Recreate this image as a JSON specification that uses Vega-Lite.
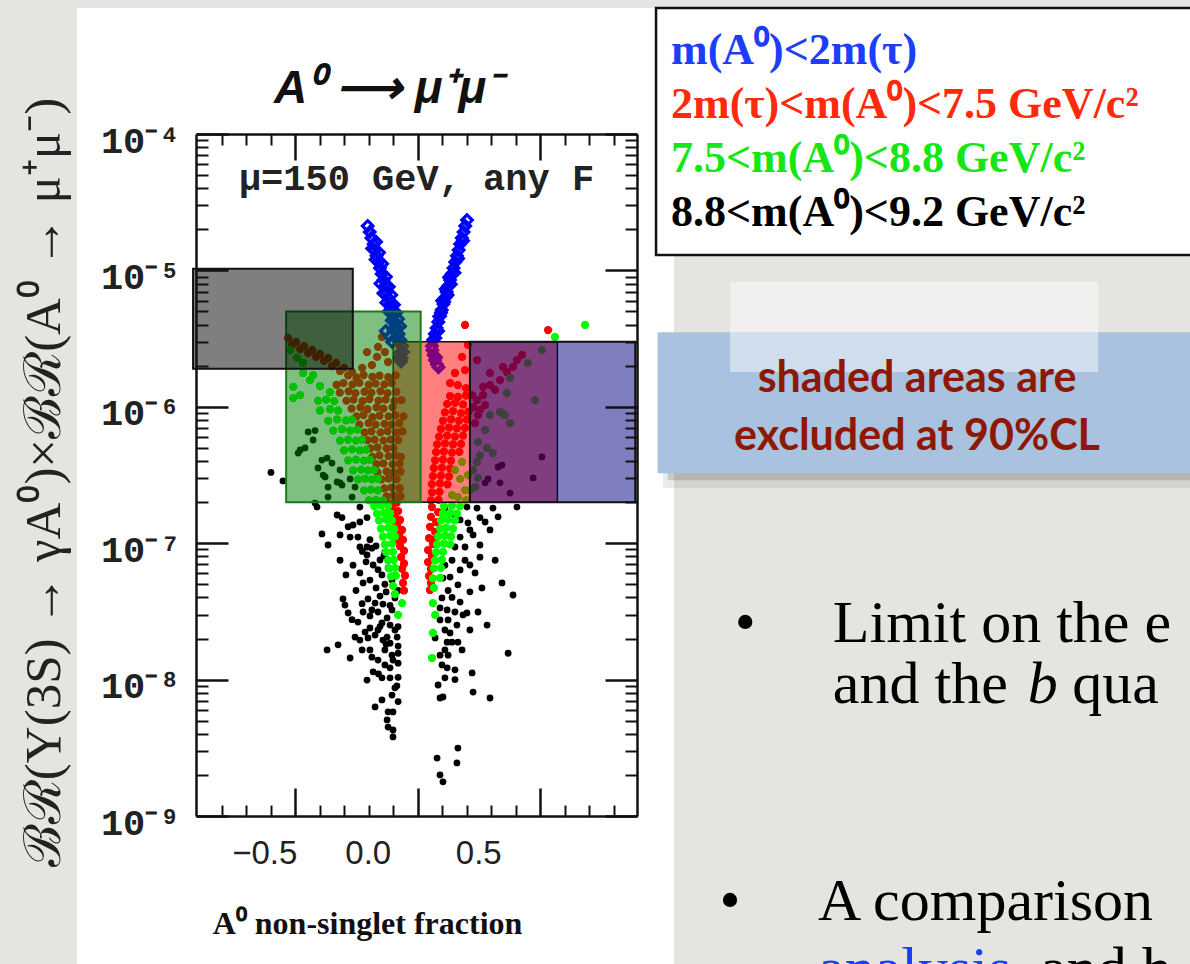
{
  "$schema": "https://vega.github.io/schema/vega-lite/v6.json",
  "usermeta": {"embedOptions": {"actions": false}},
  "width": 441,
  "height": 682,
  "autosize": {"type": "none"},
  "padding": {"left": 196, "top": 134, "right": 553, "bottom": 148},
  "background": "#e6e4e0",
  "config": {"view": {"stroke": null}},
  "datasets": {
    "blue": [
      {"frac":-0.204,"br":2.12e-5},{"frac":-0.196,"br":1.91e-5},{"frac":-0.189,"br":1.73e-5},{"frac":-0.18,"br":1.56e-5},{"frac":-0.175,"br":1.41e-5},{"frac":-0.168,"br":1.28e-5},{"frac":-0.161,"br":1.15e-5},{"frac":-0.154,"br":1.04e-5},{"frac":-0.147,"br":9.41e-6},{"frac":-0.14,"br":8.5e-6},{"frac":-0.133,"br":7.69e-6},{"frac":-0.127,"br":6.94e-6},{"frac":-0.12,"br":6.28e-6},{"frac":-0.113,"br":5.67e-6},{"frac":-0.106,"br":5.13e-6},{"frac":-0.099,"br":4.63e-6},{"frac":-0.093,"br":4.19e-6},{"frac":-0.085,"br":3.78e-6},{"frac":-0.078,"br":3.42e-6},{"frac":-0.071,"br":3.09e-6},{"frac":-0.064,"br":2.79e-6},{"frac":-0.06,"br":2.52e-6},{"frac":-0.066,"br":2.28e-6},
      {"frac":-0.17,"br":1.62e-5},{"frac":-0.158,"br":1.35e-5},{"frac":-0.145,"br":1.12e-5},{"frac":-0.13,"br":9.0e-6},{"frac":-0.118,"br":7.6e-6},{"frac":-0.108,"br":6.6e-6},{"frac":-0.097,"br":5.6e-6},{"frac":-0.088,"br":4.9e-6},{"frac":-0.08,"br":4.4e-6},{"frac":-0.072,"br":3.9e-6},
      {"frac":-0.152,"br":8.0e-6},{"frac":-0.14,"br":6.8e-6},{"frac":-0.128,"br":5.8e-6},{"frac":-0.118,"br":5.0e-6},{"frac":-0.106,"br":4.3e-6},{"frac":-0.186,"br":1.45e-5},{"frac":-0.172,"br":1.2e-5},
      {"frac":-0.13,"br":3.6e-6},{"frac":-0.115,"br":3.3e-6},{"frac":-0.1,"br":3.7e-6},{"frac":-0.09,"br":3.2e-6},{"frac":-0.105,"br":3.0e-6},{"frac":-0.07,"br":2.5e-6},{"frac":-0.075,"br":2.3e-6},{"frac":-0.068,"br":2.15e-6},
      {"frac":0.201,"br":2.34e-5},{"frac":0.194,"br":2.12e-5},{"frac":0.187,"br":1.91e-5},{"frac":0.18,"br":1.73e-5},{"frac":0.173,"br":1.56e-5},{"frac":0.167,"br":1.41e-5},{"frac":0.16,"br":1.28e-5},{"frac":0.153,"br":1.15e-5},{"frac":0.146,"br":1.04e-5},{"frac":0.139,"br":9.41e-6},{"frac":0.132,"br":8.5e-6},{"frac":0.125,"br":7.69e-6},{"frac":0.118,"br":6.94e-6},{"frac":0.111,"br":6.28e-6},{"frac":0.105,"br":5.67e-6},{"frac":0.098,"br":5.13e-6},{"frac":0.091,"br":4.63e-6},{"frac":0.084,"br":4.19e-6},{"frac":0.077,"br":3.78e-6},{"frac":0.07,"br":3.42e-6},{"frac":0.063,"br":3.09e-6},{"frac":0.058,"br":2.79e-6},
      {"frac":0.185,"br":1.65e-5},{"frac":0.165,"br":1.22e-5},{"frac":0.15,"br":9.6e-6},{"frac":0.135,"br":7.9e-6},{"frac":0.122,"br":6.6e-6},{"frac":0.108,"br":5.9e-6},{"frac":0.095,"br":4.9e-6},{"frac":0.083,"br":3.6e-6},{"frac":0.072,"br":3.2e-6},
      {"frac":0.128,"br":8.9e-6},{"frac":0.114,"br":7.3e-6},{"frac":0.1,"br":6.0e-6},{"frac":0.088,"br":4.6e-6},
      {"frac":0.06,"br":2.6e-6},{"frac":0.065,"br":2.4e-6},{"frac":0.07,"br":2.2e-6},{"frac":0.078,"br":2.05e-6},{"frac":0.085,"br":1.95e-6},{"frac":0.075,"br":2.3e-6}
    ],
    "red": [
      {"frac":-0.529,"br":3.2e-6},{"frac":-0.497,"br":2.99e-6},{"frac":-0.464,"br":2.79e-6},{"frac":-0.431,"br":2.61e-6},{"frac":-0.399,"br":2.44e-6},{"frac":-0.366,"br":2.28e-6},{"frac":-0.333,"br":2.1e-6},{"frac":-0.301,"br":1.93e-6},{"frac":-0.268,"br":1.8e-6},{"frac":-0.513,"br":2.84e-6},{"frac":-0.48,"br":2.65e-6},{"frac":-0.447,"br":2.48e-6},{"frac":-0.415,"br":2.32e-6},{"frac":-0.382,"br":2.17e-6},{"frac":-0.35,"br":1.99e-6},{"frac":-0.317,"br":1.83e-6},
      {"frac":-0.207,"br":2.52e-6},{"frac":-0.146,"br":3.25e-6},{"frac":-0.162,"br":2.75e-6},{"frac":-0.166,"br":2.32e-6},{"frac":-0.187,"br":2.02e-6},{"frac":-0.134,"br":2.52e-6},{"frac":-0.227,"br":1.93e-6},{"frac":-0.121,"br":2.13e-6},
      {"frac":-0.284,"br":1.7e-6},{"frac":-0.25,"br":1.64e-6},{"frac":-0.221,"br":1.71e-6},{"frac":-0.185,"br":1.66e-6},{"frac":-0.156,"br":1.69e-6},{"frac":-0.12,"br":1.65e-6},{"frac":-0.09,"br":1.7e-6},
      {"frac":-0.331,"br":1.45e-6},{"frac":-0.303,"br":1.49e-6},{"frac":-0.266,"br":1.46e-6},{"frac":-0.238,"br":1.5e-6},{"frac":-0.2,"br":1.45e-6},{"frac":-0.172,"br":1.48e-6},{"frac":-0.136,"br":1.46e-6},{"frac":-0.106,"br":1.49e-6},
      {"frac":-0.318,"br":1.27e-6},{"frac":-0.282,"br":1.3e-6},{"frac":-0.254,"br":1.26e-6},{"frac":-0.217,"br":1.29e-6},{"frac":-0.189,"br":1.27e-6},{"frac":-0.152,"br":1.3e-6},{"frac":-0.123,"br":1.26e-6},{"frac":-0.087,"br":1.29e-6},
      {"frac":-0.291,"br":1.11e-6},{"frac":-0.262,"br":1.13e-6},{"frac":-0.225,"br":1.1e-6},{"frac":-0.197,"br":1.14e-6},{"frac":-0.16,"br":1.11e-6},{"frac":-0.131,"br":1.13e-6},{"frac":-0.095,"br":1.1e-6},{"frac":-0.066,"br":1.12e-6},
      {"frac":-0.27,"br":9.7e-7},{"frac":-0.234,"br":9.9e-7},{"frac":-0.205,"br":9.6e-7},{"frac":-0.168,"br":9.9e-7},{"frac":-0.14,"br":9.7e-7},{"frac":-0.103,"br":9.9e-7},
      {"frac":-0.25,"br":8.5e-7},{"frac":-0.221,"br":8.7e-7},{"frac":-0.185,"br":8.4e-7},{"frac":-0.156,"br":8.6e-7},{"frac":-0.119,"br":8.5e-7},{"frac":-0.091,"br":8.7e-7},{"frac":-0.058,"br":8.5e-7},
      {"frac":-0.238,"br":7.4e-7},{"frac":-0.201,"br":7.6e-7},{"frac":-0.172,"br":7.4e-7},{"frac":-0.136,"br":7.5e-7},{"frac":-0.107,"br":7.4e-7},{"frac":-0.075,"br":7.6e-7},
      {"frac":-0.217,"br":6.5e-7},{"frac":-0.189,"br":6.6e-7},{"frac":-0.152,"br":6.5e-7},{"frac":-0.123,"br":6.6e-7},{"frac":-0.087,"br":6.5e-7},{"frac":-0.062,"br":6.6e-7},
      {"frac":-0.205,"br":5.7e-7},{"frac":-0.176,"br":5.75e-7},{"frac":-0.14,"br":5.65e-7},{"frac":-0.111,"br":5.75e-7},{"frac":-0.08,"br":5.7e-7},
      {"frac":-0.193,"br":4.95e-7},{"frac":-0.164,"br":5.05e-7},{"frac":-0.127,"br":4.95e-7},{"frac":-0.099,"br":5.0e-7},
      {"frac":-0.185,"br":4.3e-7},{"frac":-0.156,"br":4.4e-7},{"frac":-0.119,"br":4.35e-7},{"frac":-0.091,"br":4.4e-7},{"frac":-0.068,"br":4.3e-7},
      {"frac":-0.168,"br":3.8e-7},{"frac":-0.14,"br":3.85e-7},{"frac":-0.103,"br":3.78e-7},{"frac":-0.074,"br":3.83e-7},
      {"frac":-0.164,"br":3.3e-7},{"frac":-0.127,"br":3.36e-7},{"frac":-0.099,"br":3.31e-7},{"frac":-0.07,"br":3.35e-7},
      {"frac":-0.148,"br":2.94e-7},{"frac":-0.119,"br":2.98e-7},{"frac":-0.086,"br":2.95e-7},
      {"frac":-0.136,"br":2.52e-7},{"frac":-0.107,"br":2.56e-7},{"frac":-0.074,"br":2.53e-7},
      {"frac":-0.127,"br":2.2e-7},{"frac":-0.099,"br":2.24e-7},{"frac":-0.07,"br":2.21e-7},
      {"frac":-0.115,"br":1.96e-7},{"frac":-0.086,"br":1.98e-7},
      {"frac":-0.105,"br":1.84e-7},{"frac":-0.08,"br":1.72e-7},{"frac":-0.093,"br":1.59e-7},{"frac":-0.072,"br":1.48e-7},{"frac":-0.084,"br":1.36e-7},{"frac":-0.064,"br":1.25e-7},{"frac":-0.076,"br":1.15e-7},{"frac":-0.06,"br":1.06e-7},{"frac":-0.072,"br":9.5e-8},{"frac":-0.056,"br":8.8e-8},{"frac":-0.068,"br":7.9e-8},{"frac":-0.056,"br":7.1e-8},{"frac":-0.064,"br":6.5e-8},{"frac":-0.052,"br":5.8e-8},{"frac":-0.06,"br":5.11e-8},{"frac":-0.056,"br":4.5e-8},{"frac":-0.089,"br":1.05e-7},{"frac":-0.093,"br":1.32e-7},
      {"frac":0.205,"br":2.85e-6},{"frac":0.181,"br":2.32e-6},{"frac":0.193,"br":1.86e-6},{"frac":0.152,"br":1.77e-6},{"frac":0.132,"br":1.49e-6},{"frac":0.164,"br":1.44e-6},{"frac":0.197,"br":1.37e-6},
      {"frac":0.132,"br":1.2e-6},{"frac":0.164,"br":1.18e-6},{"frac":0.197,"br":1.21e-6},
      {"frac":0.12,"br":1.05e-6},{"frac":0.152,"br":1.07e-6},{"frac":0.185,"br":1.04e-6},
      {"frac":0.111,"br":9.1e-7},{"frac":0.144,"br":9.3e-7},{"frac":0.177,"br":9.0e-7},{"frac":0.207,"br":9.2e-7},
      {"frac":0.103,"br":7.9e-7},{"frac":0.136,"br":8.1e-7},{"frac":0.168,"br":7.9e-7},{"frac":0.2,"br":8.05e-7},
      {"frac":0.095,"br":6.9e-7},{"frac":0.128,"br":7.05e-7},{"frac":0.16,"br":6.95e-7},{"frac":0.193,"br":7.0e-7},
      {"frac":0.087,"br":6.05e-7},{"frac":0.12,"br":6.15e-7},{"frac":0.152,"br":6.05e-7},{"frac":0.185,"br":6.15e-7},
      {"frac":0.079,"br":5.3e-7},{"frac":0.111,"br":5.4e-7},{"frac":0.144,"br":5.3e-7},{"frac":0.177,"br":5.35e-7},
      {"frac":0.075,"br":4.65e-7},{"frac":0.107,"br":4.7e-7},{"frac":0.14,"br":4.62e-7},{"frac":0.17,"br":4.68e-7},
      {"frac":0.071,"br":4.05e-7},{"frac":0.103,"br":4.1e-7},{"frac":0.136,"br":4.03e-7},
      {"frac":0.066,"br":3.55e-7},{"frac":0.099,"br":3.58e-7},{"frac":0.132,"br":3.54e-7},
      {"frac":0.062,"br":3.1e-7},{"frac":0.095,"br":3.13e-7},{"frac":0.128,"br":3.09e-7},
      {"frac":0.058,"br":2.71e-7},{"frac":0.091,"br":2.74e-7},{"frac":0.122,"br":2.7e-7},
      {"frac":0.058,"br":2.36e-7},{"frac":0.089,"br":2.38e-7},
      {"frac":0.054,"br":2.06e-7},{"frac":0.085,"br":2.08e-7},
      {"frac":0.058,"br":1.84e-7},{"frac":0.083,"br":1.69e-7},{"frac":0.054,"br":1.56e-7},{"frac":0.075,"br":1.43e-7},{"frac":0.05,"br":1.32e-7},{"frac":0.071,"br":1.21e-7},{"frac":0.046,"br":1.09e-7},{"frac":0.062,"br":9.87e-8},{"frac":0.042,"br":8.9e-8},{"frac":0.058,"br":8.06e-8},{"frac":0.042,"br":7.28e-8},{"frac":0.054,"br":6.47e-8},{"frac":0.046,"br":5.75e-8},{"frac":0.054,"br":5.11e-8},{"frac":0.05,"br":4.54e-8},{"frac":0.066,"br":1.06e-7},
      {"frac":0.226,"br":9.95e-7},{"frac":0.242,"br":1.12e-6},{"frac":0.267,"br":1.22e-6},{"frac":0.295,"br":1.44e-6},{"frac":0.246,"br":8.71e-7},{"frac":0.275,"br":1.03e-6},{"frac":0.316,"br":1.33e-6},{"frac":0.336,"br":1.57e-6},{"frac":0.364,"br":1.8e-6},{"frac":0.389,"br":1.96e-6},{"frac":0.405,"br":2.2e-6},{"frac":0.426,"br":2.4e-6},{"frac":0.348,"br":1.96e-6},{"frac":0.295,"br":1.77e-6},{"frac":0.267,"br":1.4e-6},{"frac":0.242,"br":2.2e-6},{"frac":0.234,"br":7.6e-7},{"frac":0.254,"br":9.5e-7},{"frac":0.222,"br":1.22e-6},
      {"frac":0.193,"br":3.98e-6},{"frac":0.532,"br":3.65e-6}
    ],
    "green": [
      {"frac":-0.521,"br":2.61e-6},{"frac":-0.492,"br":2.28e-6},{"frac":-0.468,"br":2.1e-6},{"frac":-0.508,"br":1.4e-6},{"frac":-0.468,"br":1.77e-6},{"frac":-0.427,"br":1.71e-6},{"frac":-0.358,"br":1.28e-6},{"frac":-0.508,"br":1.16e-6},{"frac":-0.48,"br":1.22e-6},{"frac":-0.44,"br":1.57e-6},{"frac":-0.399,"br":1.42e-6},
      {"frac":-0.407,"br":1.11e-6},{"frac":-0.374,"br":1.13e-6},{"frac":-0.341,"br":1.1e-6},
      {"frac":-0.399,"br":9.4e-7},{"frac":-0.358,"br":9.6e-7},{"frac":-0.325,"br":9.4e-7},
      {"frac":-0.366,"br":7.9e-7},{"frac":-0.329,"br":8.1e-7},{"frac":-0.293,"br":7.95e-7},{"frac":-0.268,"br":8.05e-7},
      {"frac":-0.345,"br":6.7e-7},{"frac":-0.309,"br":6.85e-7},{"frac":-0.276,"br":6.7e-7},{"frac":-0.248,"br":6.8e-7},
      {"frac":-0.317,"br":5.65e-7},{"frac":-0.284,"br":5.75e-7},{"frac":-0.252,"br":5.65e-7},{"frac":-0.227,"br":5.75e-7},
      {"frac":-0.301,"br":4.8e-7},{"frac":-0.268,"br":4.87e-7},{"frac":-0.236,"br":4.8e-7},{"frac":-0.211,"br":4.85e-7},
      {"frac":-0.284,"br":4.05e-7},{"frac":-0.252,"br":4.1e-7},{"frac":-0.219,"br":4.03e-7},{"frac":-0.195,"br":4.09e-7},
      {"frac":-0.264,"br":3.42e-7},{"frac":-0.231,"br":3.46e-7},{"frac":-0.203,"br":3.42e-7},{"frac":-0.178,"br":3.45e-7},
      {"frac":-0.244,"br":2.94e-7},{"frac":-0.215,"br":2.98e-7},{"frac":-0.187,"br":2.94e-7},{"frac":-0.162,"br":2.97e-7},
      {"frac":-0.219,"br":2.44e-7},{"frac":-0.191,"br":2.47e-7},{"frac":-0.162,"br":2.44e-7},
      {"frac":-0.199,"br":2.06e-7},{"frac":-0.17,"br":2.08e-7},{"frac":-0.142,"br":2.06e-7},
      {"frac":-0.178,"br":1.87e-7},{"frac":-0.15,"br":1.89e-7},{"frac":-0.121,"br":1.87e-7},
      {"frac":-0.166,"br":1.65e-7},{"frac":-0.138,"br":1.67e-7},{"frac":-0.113,"br":1.65e-7},
      {"frac":-0.158,"br":1.47e-7},{"frac":-0.129,"br":1.49e-7},{"frac":-0.105,"br":1.47e-7},
      {"frac":-0.15,"br":1.28e-7},{"frac":-0.121,"br":1.3e-7},{"frac":-0.097,"br":1.28e-7},
      {"frac":-0.142,"br":1.12e-7},{"frac":-0.113,"br":1.14e-7},{"frac":-0.093,"br":1.12e-7},
      {"frac":-0.134,"br":9.8e-8},{"frac":-0.105,"br":9.95e-8},
      {"frac":-0.129,"br":8.6e-8},{"frac":-0.101,"br":8.65e-8},
      {"frac":-0.121,"br":7.5e-8},{"frac":-0.097,"br":7.56e-8},
      {"frac":-0.117,"br":6.55e-8},{"frac":-0.093,"br":6.6e-8},
      {"frac":-0.109,"br":5.72e-8},{"frac":-0.089,"br":5.78e-8},
      {"frac":-0.101,"br":4.86e-8},{"frac":-0.093,"br":4.24e-8},{"frac":-0.064,"br":3.64e-8},{"frac":-0.08,"br":2.98e-8},
      {"frac":0.107,"br":1.87e-7},{"frac":0.14,"br":1.89e-7},{"frac":0.173,"br":1.87e-7},
      {"frac":0.103,"br":1.65e-7},{"frac":0.132,"br":1.67e-7},{"frac":0.16,"br":1.65e-7},
      {"frac":0.095,"br":1.47e-7},{"frac":0.124,"br":1.49e-7},{"frac":0.152,"br":1.47e-7},
      {"frac":0.091,"br":1.28e-7},{"frac":0.116,"br":1.3e-7},{"frac":0.144,"br":1.28e-7},
      {"frac":0.083,"br":1.12e-7},{"frac":0.111,"br":1.14e-7},{"frac":0.136,"br":1.12e-7},
      {"frac":0.079,"br":9.8e-8},{"frac":0.107,"br":9.95e-8},{"frac":0.132,"br":9.8e-8},
      {"frac":0.075,"br":8.6e-8},{"frac":0.103,"br":8.65e-8},
      {"frac":0.071,"br":7.5e-8},{"frac":0.099,"br":7.56e-8},
      {"frac":0.066,"br":6.55e-8},{"frac":0.095,"br":6.6e-8},
      {"frac":0.062,"br":5.52e-8},{"frac":0.091,"br":5.58e-8},
      {"frac":0.066,"br":4.7e-8},{"frac":0.062,"br":3.64e-8},{"frac":0.071,"br":2.98e-8},{"frac":0.062,"br":2.2e-8},{"frac":0.058,"br":1.44e-8},
      {"frac":0.152,"br":3.44e-7},{"frac":0.173,"br":2.96e-7},{"frac":0.193,"br":2.45e-7},{"frac":0.164,"br":2.18e-7},{"frac":0.181,"br":3.94e-7},{"frac":0.205,"br":3.16e-7},{"frac":0.14,"br":2.25e-7},{"frac":0.197,"br":2.07e-7},
      {"frac":0.213,"br":2.45e-7},{"frac":0.234,"br":2.58e-7},{"frac":0.246,"br":3.01e-7},{"frac":0.226,"br":3.44e-7},{"frac":0.242,"br":3.94e-7},{"frac":0.254,"br":4.41e-7},{"frac":0.283,"br":4.99e-7},{"frac":0.307,"br":4.58e-7},{"frac":0.246,"br":5.52e-7},{"frac":0.295,"br":8.71e-7},{"frac":0.336,"br":9.16e-7},{"frac":0.356,"br":8.71e-7},{"frac":0.377,"br":7.6e-7},{"frac":0.364,"br":1.26e-6},{"frac":0.479,"br":1.12e-6},{"frac":0.344,"br":9.0e-7},{"frac":0.377,"br":1.63e-6},{"frac":0.45,"br":2.09e-6},{"frac":0.507,"br":2.61e-6},{"frac":0.275,"br":6.76e-7},
      {"frac":0.683,"br":3.98e-6},{"frac":0.56,"br":3.25e-6}
    ],
    "black": [
      {"frac":-0.599,"br":3.3e-7},{"frac":-0.55,"br":2.86e-7},
      {"frac":-0.447,"br":6.54e-7},{"frac":-0.427,"br":5.71e-7},{"frac":-0.48,"br":4.83e-7},{"frac":-0.419,"br":6.7e-7},{"frac":-0.46,"br":4.99e-7},{"frac":-0.391,"br":4.07e-7},{"frac":-0.37,"br":4.21e-7},{"frac":-0.35,"br":3.87e-7},{"frac":-0.407,"br":3.56e-7},{"frac":-0.317,"br":3.44e-7},{"frac":-0.386,"br":3.16e-7},{"frac":-0.366,"br":2.58e-7},{"frac":-0.329,"br":2.81e-7},{"frac":-0.309,"br":2.67e-7},{"frac":-0.276,"br":2.96e-7},{"frac":-0.256,"br":2.58e-7},{"frac":-0.268,"br":2.18e-7},{"frac":-0.366,"br":2.18e-7},{"frac":-0.488,"br":4.58e-7},{"frac":-0.378,"br":3.06e-7},{"frac":-0.317,"br":2.77e-7},{"frac":-0.419,"br":1.97e-7},
      {"frac":-0.411,"br":1.84e-7},{"frac":-0.236,"br":1.84e-7},{"frac":-0.329,"br":1.61e-7},{"frac":-0.309,"br":1.54e-7},{"frac":-0.284,"br":1.32e-7},{"frac":-0.264,"br":1.36e-7},{"frac":-0.236,"br":1.43e-7},{"frac":-0.207,"br":1.54e-7},{"frac":-0.391,"br":1.17e-7},{"frac":-0.317,"br":1.15e-7},{"frac":-0.276,"br":1.11e-7},{"frac":-0.244,"br":1.11e-7},{"frac":-0.366,"br":9.7e-8},{"frac":-0.236,"br":9.38e-8},{"frac":-0.207,"br":9.38e-8},{"frac":-0.226,"br":8.7e-8},
      {"frac":-0.207,"br":8.2e-8},{"frac":-0.182,"br":6.92e-8},{"frac":-0.236,"br":6.05e-8},{"frac":-0.223,"br":5.11e-8},{"frac":-0.203,"br":3.9e-8},{"frac":-0.305,"br":3.9e-8},{"frac":-0.297,"br":3.52e-8},{"frac":-0.284,"br":3.08e-8},{"frac":-0.268,"br":2.75e-8},{"frac":-0.223,"br":3.13e-8},{"frac":-0.174,"br":3.64e-8},{"frac":-0.162,"br":3.13e-8},{"frac":-0.146,"br":2.6e-8},{"frac":-0.125,"br":2.83e-8},{"frac":-0.195,"br":2.39e-8},{"frac":-0.256,"br":2.05e-8},{"frac":-0.236,"br":1.95e-8},{"frac":-0.203,"br":2.02e-8},{"frac":-0.174,"br":2.12e-8},{"frac":-0.125,"br":2.05e-8},{"frac":-0.113,"br":1.85e-8},{"frac":-0.084,"br":2.05e-8},{"frac":-0.134,"br":1.65e-8},{"frac":-0.105,"br":1.51e-8},{"frac":-0.101,"br":1.39e-8},{"frac":-0.134,"br":1.28e-8},{"frac":-0.08,"br":1.32e-8},{"frac":-0.37,"br":1.65e-8},{"frac":-0.325,"br":1.8e-8},{"frac":-0.276,"br":1.44e-8},{"frac":-0.195,"br":1.65e-8},{"frac":-0.187,"br":1.46e-8},{"frac":-0.08,"br":1.04e-8},{"frac":-0.113,"br":1.03e-8},{"frac":-0.146,"br":1.03e-8},{"frac":-0.207,"br":9.93e-9},{"frac":-0.105,"br":7.7e-9},{"frac":-0.174,"br":6.3e-9},{"frac":-0.101,"br":5.79e-9},{"frac":-0.125,"br":5.06e-9},{"frac":-0.121,"br":4.49e-9},{"frac":-0.101,"br":4.27e-9},{"frac":-0.101,"br":3.8e-9},{"frac":-0.16,"br":1.1e-8},{"frac":-0.085,"br":9.0e-9},{"frac":-0.08,"br":1.56e-8},
      {"frac":-0.154,"br":7.53e-8},{"frac":-0.121,"br":6.58e-8},{"frac":-0.146,"br":5.85e-8},{"frac":-0.105,"br":5.37e-8},{"frac":-0.17,"br":4.7e-8},{"frac":-0.129,"br":4.39e-8},{"frac":-0.093,"br":3.97e-8},{"frac":-0.142,"br":3.58e-8},{"frac":-0.105,"br":3.24e-8},{"frac":-0.195,"br":2.93e-8},{"frac":-0.113,"br":2.51e-8},{"frac":-0.162,"br":2.31e-8},{"frac":-0.093,"br":2.31e-8},{"frac":-0.129,"br":1.82e-8},{"frac":-0.17,"br":9.54e-8},{"frac":-0.138,"br":8.06e-8},{"frac":-0.195,"br":1.06e-7},
      {"frac":-0.187,"br":9.2e-8},{"frac":-0.134,"br":8.6e-8},{"frac":-0.097,"br":7.5e-8},{"frac":-0.211,"br":7.3e-8},{"frac":-0.162,"br":6.4e-8},{"frac":-0.093,"br":5.8e-8},{"frac":-0.195,"br":5.37e-8},{"frac":-0.134,"br":5.0e-8},{"frac":-0.252,"br":4.5e-8},{"frac":-0.08,"br":4.5e-8},{"frac":-0.154,"br":4.1e-8},{"frac":-0.227,"br":3.6e-8},{"frac":-0.113,"br":3.5e-8},{"frac":-0.187,"br":3.24e-8},{"frac":-0.08,"br":2.98e-8},{"frac":-0.244,"br":2.64e-8},{"frac":-0.154,"br":2.45e-8},{"frac":-0.08,"br":2.45e-8},{"frac":-0.215,"br":2.23e-8},{"frac":-0.142,"br":1.95e-8},{"frac":-0.08,"br":1.76e-8},{"frac":-0.227,"br":1.65e-8},{"frac":-0.162,"br":1.39e-8},{"frac":-0.113,"br":1.22e-8},{"frac":-0.182,"br":1.14e-8},{"frac":-0.093,"br":8.7e-9},{"frac":-0.146,"br":7.1e-9},{"frac":-0.08,"br":6.9e-9},{"frac":-0.121,"br":5.8e-9},{"frac":-0.293,"br":5.85e-8},{"frac":-0.317,"br":7.5e-8},{"frac":-0.264,"br":6.9e-8},
      {"frac":0.201,"br":1.84e-7},{"frac":0.242,"br":1.81e-7},{"frac":0.307,"br":1.81e-7},{"frac":0.405,"br":1.84e-7},{"frac":0.173,"br":1.48e-7},{"frac":0.205,"br":1.41e-7},{"frac":0.254,"br":1.54e-7},{"frac":0.275,"br":1.43e-7},{"frac":0.328,"br":1.56e-7},{"frac":0.295,"br":1.25e-7},{"frac":0.226,"br":1.15e-7},{"frac":0.173,"br":1.11e-7},{"frac":0.193,"br":9.38e-8},{"frac":0.152,"br":9.38e-8},{"frac":0.254,"br":7.9e-8},{"frac":0.213,"br":6.92e-8},{"frac":0.234,"br":6.05e-8},{"frac":0.173,"br":6.37e-8},{"frac":0.132,"br":5.65e-8},{"frac":0.344,"br":5.11e-8},{"frac":0.389,"br":4.17e-8},{"frac":0.262,"br":4.7e-8},{"frac":0.14,"br":4.0e-8},{"frac":0.173,"br":3.7e-8},{"frac":0.099,"br":3.97e-8},{"frac":0.12,"br":3.24e-8},{"frac":0.185,"br":2.98e-8},{"frac":0.246,"br":3.13e-8},{"frac":0.091,"br":2.74e-8},{"frac":0.124,"br":2.74e-8},{"frac":0.16,"br":2.51e-8},{"frac":0.283,"br":2.51e-8},{"frac":0.071,"br":2.02e-8},{"frac":0.132,"br":2.2e-8},{"frac":0.12,"br":1.88e-8},{"frac":0.14,"br":1.88e-8},{"frac":0.164,"br":1.88e-8},{"frac":0.111,"br":1.65e-8},{"frac":0.124,"br":1.51e-8},{"frac":0.369,"br":1.56e-8},{"frac":0.099,"br":1.28e-8},{"frac":0.12,"br":1.22e-8},{"frac":0.152,"br":1.18e-8},{"frac":0.222,"br":1.12e-8},{"frac":0.083,"br":9.13e-9},{"frac":0.226,"br":8.1e-9},{"frac":0.091,"br":7.33e-9},{"frac":0.103,"br":7.46e-9},{"frac":0.295,"br":7.33e-9},{"frac":0.164,"br":3.15e-9},{"frac":0.16,"br":2.45e-9},{"frac":0.079,"br":2.66e-9},{"frac":0.091,"br":2.0e-9},{"frac":0.103,"br":1.78e-9},{"frac":0.201,"br":3.08e-8},
      {"frac":0.111,"br":1.81e-7},{"frac":0.152,"br":1.61e-7},{"frac":0.213,"br":1.25e-7},{"frac":0.14,"br":7.5e-8},{"frac":0.193,"br":7.5e-8},{"frac":0.111,"br":6.9e-8},{"frac":0.164,"br":4.95e-8},{"frac":0.213,"br":4.4e-8},{"frac":0.124,"br":4.5e-8},{"frac":0.091,"br":3.35e-8},{"frac":0.152,"br":3.13e-8},{"frac":0.213,"br":2.31e-8},{"frac":0.111,"br":2.31e-8},{"frac":0.181,"br":1.65e-8},{"frac":0.091,"br":1.51e-8},{"frac":0.152,"br":1.0e-8},{"frac":0.111,"br":1.03e-8},{"frac":0.254,"br":9.7e-8},{"frac":0.316,"br":7.5e-8},{"frac":0.103,"br":5.55e-8},
      {"frac":0.507,"br":4.29e-7},{"frac":0.471,"br":3.01e-7},{"frac":0.328,"br":3.62e-7},{"frac":0.344,"br":3.74e-7},{"frac":0.287,"br":2.96e-7},{"frac":0.377,"br":2.33e-7},{"frac":0.336,"br":2.77e-7},{"frac":0.275,"br":2.77e-7}
    ]
  },
  "layer": [
    {
      "data": {"values": [{}]},
      "mark": {"type": "rect", "fill": "#ffffff"},
      "encoding": {
        "x": {"datum": -1.3906, "type": "quantitative", "scale": {"domain": [-0.905, 0.895], "nice": false, "zero": false}, "axis": null},
        "x2": {"datum": 1.046},
        "y": {"datum": 8.39e-4, "type": "quantitative", "scale": {"type": "log", "domain": [1e-9, 1e-4], "nice": false}, "axis": null},
        "y2": {"datum": 1e-11}
      }
    },
    {
      "data": {"values": [{}]},
      "mark": {"type": "rect", "fill": "#ffffff", "stroke": "#111111", "strokeWidth": 2.5},
      "encoding": {
        "x": {"datum": 0.9727, "type": "quantitative", "scale": {"domain": [-0.905, 0.895], "nice": false, "zero": false}, "axis": null},
        "x2": {"datum": 3.2},
        "y": {"datum": 8.39e-4, "type": "quantitative", "scale": {"type": "log", "domain": [1e-9, 1e-4], "nice": false}, "axis": null},
        "y2": {"datum": 1.297e-5}
      }
    },
    {
      "data": {"values": [{}]},
      "mark": {"type": "rect", "fill": "#000000", "opacity": 0.08},
      "encoding": {
        "x": {"datum": 1.001, "type": "quantitative", "scale": {"domain": [-0.905, 0.895], "nice": false, "zero": false}, "axis": null},
        "x2": {"datum": 3.2},
        "y": {"datum": 3.38e-7, "type": "quantitative", "scale": {"type": "log", "domain": [1e-9, 1e-4], "nice": false}, "axis": null},
        "y2": {"datum": 2.54e-7}
      }
    },
    {
      "data": {"values": [{}]},
      "mark": {"type": "rect", "fill": "#000000", "opacity": 0.14},
      "encoding": {
        "x": {"datum": 1.02, "type": "quantitative", "scale": {"domain": [-0.905, 0.895], "nice": false, "zero": false}, "axis": null},
        "x2": {"datum": 3.2},
        "y": {"datum": 3.38e-7, "type": "quantitative", "scale": {"type": "log", "domain": [1e-9, 1e-4], "nice": false}, "axis": null},
        "y2": {"datum": 2.9e-7}
      }
    },
    {
      "data": {"values": [{}]},
      "mark": {"type": "rect", "fill": "#a8c2df"},
      "encoding": {
        "x": {"datum": 0.979, "type": "quantitative", "scale": {"domain": [-0.905, 0.895], "nice": false, "zero": false}, "axis": null},
        "x2": {"datum": 3.2},
        "y": {"datum": 3.517e-6, "type": "quantitative", "scale": {"type": "log", "domain": [1e-9, 1e-4], "nice": false}, "axis": null},
        "y2": {"datum": 3.254e-7}
      }
    },
    {
      "data": {"values": [{}]},
      "mark": {"type": "rect", "fill": "#ffffff", "opacity": 0.45},
      "encoding": {
        "x": {"datum": 1.275, "type": "quantitative", "scale": {"domain": [-0.905, 0.895], "nice": false, "zero": false}, "axis": null},
        "x2": {"datum": 2.777},
        "y": {"datum": 8.22e-6, "type": "quantitative", "scale": {"type": "log", "domain": [1e-9, 1e-4], "nice": false}, "axis": null},
        "y2": {"datum": 1.8e-6}
      }
    },
    {
      "data": {"values": [{}]},
      "mark": {"type": "text", "text": "shaded areas are", "font": "Lato", "fontWeight": "bold", "fontSize": 43, "color": "#8e1804", "align": "center", "baseline": "alphabetic"},
      "encoding": {
        "x": {"datum": 2.038, "type": "quantitative", "scale": {"domain": [-0.905, 0.895], "nice": false, "zero": false}, "axis": null},
        "y": {"datum": 1.284e-6, "type": "quantitative", "scale": {"type": "log", "domain": [1e-9, 1e-4], "nice": false}, "axis": null}
      }
    },
    {
      "data": {"values": [{}]},
      "mark": {"type": "text", "text": "excluded at 90%CL", "font": "Lato", "fontWeight": "bold", "fontSize": 43, "color": "#8e1804", "align": "center", "baseline": "alphabetic"},
      "encoding": {
        "x": {"datum": 2.038, "type": "quantitative", "scale": {"domain": [-0.905, 0.895], "nice": false, "zero": false}, "axis": null},
        "y": {"datum": 4.823e-7, "type": "quantitative", "scale": {"type": "log", "domain": [1e-9, 1e-4], "nice": false}, "axis": null}
      }
    },
    {
      "data": {"values": [{}]},
      "mark": {"type": "text", "text": "•", "font": "Liberation Serif", "fontSize": 60, "color": "#000000", "align": "center", "baseline": "alphabetic"},
      "encoding": {
        "x": {"datum": 1.3367, "type": "quantitative", "scale": {"domain": [-0.905, 0.895], "nice": false, "zero": false}, "axis": null},
        "y": {"datum": 1.887e-8, "type": "quantitative", "scale": {"type": "log", "domain": [1e-9, 1e-4], "nice": false}, "axis": null}
      }
    },
    {
      "data": {"values": [{}]},
      "mark": {"type": "text", "text": "Limit on the e", "font": "Liberation Serif", "fontSize": 60, "color": "#000000", "align": "left", "baseline": "alphabetic"},
      "encoding": {
        "x": {"datum": 1.6943, "type": "quantitative", "scale": {"domain": [-0.905, 0.895], "nice": false, "zero": false}, "axis": null},
        "y": {"datum": 1.887e-8, "type": "quantitative", "scale": {"type": "log", "domain": [1e-9, 1e-4], "nice": false}, "axis": null}
      }
    },
    {
      "data": {"values": [{}]},
      "mark": {"type": "text", "text": "and the", "font": "Liberation Serif", "fontSize": 60, "color": "#000000", "align": "left", "baseline": "alphabetic"},
      "encoding": {
        "x": {"datum": 1.6943, "type": "quantitative", "scale": {"domain": [-0.905, 0.895], "nice": false, "zero": false}, "axis": null},
        "y": {"datum": 6.735e-9, "type": "quantitative", "scale": {"type": "log", "domain": [1e-9, 1e-4], "nice": false}, "axis": null}
      }
    },
    {
      "data": {"values": [{}]},
      "mark": {"type": "text", "text": "b", "font": "Liberation Serif", "fontStyle": "italic", "fontSize": 60, "color": "#000000", "align": "left", "baseline": "alphabetic"},
      "encoding": {
        "x": {"datum": 2.49, "type": "quantitative", "scale": {"domain": [-0.905, 0.895], "nice": false, "zero": false}, "axis": null},
        "y": {"datum": 6.735e-9, "type": "quantitative", "scale": {"type": "log", "domain": [1e-9, 1e-4], "nice": false}, "axis": null}
      }
    },
    {
      "data": {"values": [{}]},
      "mark": {"type": "text", "text": "qua", "font": "Liberation Serif", "fontSize": 60, "color": "#000000", "align": "left", "baseline": "alphabetic"},
      "encoding": {
        "x": {"datum": 2.672, "type": "quantitative", "scale": {"domain": [-0.905, 0.895], "nice": false, "zero": false}, "axis": null},
        "y": {"datum": 6.735e-9, "type": "quantitative", "scale": {"type": "log", "domain": [1e-9, 1e-4], "nice": false}, "axis": null}
      }
    },
    {
      "data": {"values": [{}]},
      "mark": {"type": "text", "text": "•", "font": "Liberation Serif", "fontSize": 60, "color": "#000000", "align": "center", "baseline": "alphabetic"},
      "encoding": {
        "x": {"datum": 1.2747, "type": "quantitative", "scale": {"domain": [-0.905, 0.895], "nice": false, "zero": false}, "axis": null},
        "y": {"datum": 1.728e-10, "type": "quantitative", "scale": {"type": "log", "domain": [1e-9, 1e-4], "nice": false}, "axis": null}
      }
    },
    {
      "data": {"values": [{}]},
      "mark": {"type": "text", "text": "A comparison", "font": "Liberation Serif", "fontSize": 60, "color": "#000000", "align": "left", "baseline": "alphabetic"},
      "encoding": {
        "x": {"datum": 1.634, "type": "quantitative", "scale": {"domain": [-0.905, 0.895], "nice": false, "zero": false}, "axis": null},
        "y": {"datum": 1.728e-10, "type": "quantitative", "scale": {"type": "log", "domain": [1e-9, 1e-4], "nice": false}, "axis": null}
      }
    },
    {
      "data": {"values": [{}]},
      "mark": {"type": "text", "text": "analysis", "font": "Liberation Serif", "fontSize": 60, "color": "#1b3ff2", "align": "left", "baseline": "alphabetic"},
      "encoding": {
        "x": {"datum": 1.634, "type": "quantitative", "scale": {"domain": [-0.905, 0.895], "nice": false, "zero": false}, "axis": null},
        "y": {"datum": 5.48e-11, "type": "quantitative", "scale": {"type": "log", "domain": [1e-9, 1e-4], "nice": false}, "axis": null}
      }
    },
    {
      "data": {"values": [{}]},
      "mark": {"type": "text", "text": "and h", "font": "Liberation Serif", "fontSize": 60, "color": "#000000", "align": "left", "baseline": "alphabetic"},
      "encoding": {
        "x": {"datum": 2.54, "type": "quantitative", "scale": {"domain": [-0.905, 0.895], "nice": false, "zero": false}, "axis": null},
        "y": {"datum": 5.48e-11, "type": "quantitative", "scale": {"type": "log", "domain": [1e-9, 1e-4], "nice": false}, "axis": null}
      }
    },
    {
      "data": {"name": "black"},
      "mark": {"type": "circle", "size": 46, "opacity": 1},
      "encoding": {
        "x": {"field": "frac", "type": "quantitative", "scale": {"domain": [-0.905, 0.895], "nice": false, "zero": false},
          "axis": {"orient": "bottom", "values": [-0.5, 0, 0.5], "ticks": false, "tickSize": 0, "domain": true, "domainColor": "#111111", "domainWidth": 2.5, "grid": false,
            "labelExpr": "datum.value < -0.25 ? '−0.5' : datum.value > 0.25 ? '0.5' : '0.0'",
            "labelFont": "Liberation Sans", "labelFontSize": 33, "labelColor": "#222222", "labelBaseline": "alphabetic", "labelPadding": 47,
            "labelOffset": {"expr": "datum.value < -0.25 ? -31 : datum.value > 0.25 ? -62 : -50"},
            "labelFlush": false, "labelOverlap": false,
            "title": "A⁰ non-singlet fraction", "titleFont": "Liberation Serif", "titleFontSize": 32, "titleFontWeight": "bold", "titleColor": "#111111",
            "titleX": 171, "titleY": 117, "titleBaseline": "alphabetic", "titleAlign": "center", "zindex": 1}},
        "y": {"field": "br", "type": "quantitative", "scale": {"type": "log", "domain": [1e-9, 1e-4], "nice": false},
          "axis": {"orient": "left", "values": [1e-9, 1e-8, 1e-7, 1e-6, 1e-5, 1e-4], "ticks": false, "tickSize": 0, "domain": true, "domainColor": "#111111", "domainWidth": 2.5, "grid": false,
            "labelExpr": "datum.value > 5e-5 ? '10⁻⁴' : datum.value > 5e-6 ? '10⁻⁵' : datum.value > 5e-7 ? '10⁻⁶' : datum.value > 5e-8 ? '10⁻⁷' : datum.value > 5e-9 ? '10⁻⁸' : '10⁻⁹'",
            "labelFont": "Liberation Mono", "labelFontSize": 37, "labelFontWeight": "bold", "labelColor": "#222222", "labelAlign": "right", "labelBaseline": "alphabetic",
            "labelPadding": 16, "labelOffset": 18, "labelFlush": false, "labelOverlap": false,
            "title": "ℬℛ(Υ(3S) → γA⁰)×ℬℛ(A⁰ → μ⁺μ⁻)", "titleFont": "Liberation Serif", "titleFontSize": 51, "titleFontWeight": "normal", "titleColor": "#222222",
            "titleAngle": 270, "titleX": -152, "titleY": 348, "titleBaseline": "middle", "titleAlign": "center", "zindex": 1}},
        "color": {"datum": "8.8<m(A⁰)<9.2 GeV/c²", "type": "nominal",
          "scale": {"domain": ["m(A⁰)<2m(τ)", "2m(τ)<m(A⁰)<7.5 GeV/c²", "7.5<m(A⁰)<8.8 GeV/c²", "8.8<m(A⁰)<9.2 GeV/c²"], "range": ["#0000ff", "#ff0000", "#00ff00", "#000000"]},
          "legend": {"orient": "none", "legendX": 460, "legendY": -126, "title": null, "direction": "vertical",
            "padding": 21, "rowPadding": 10, "fillColor": null, "strokeColor": null,
            "symbolSize": 0, "symbolOpacity": 0, "symbolStrokeWidth": 0, "labelOffset": -50,
            "labelFont": "Liberation Serif", "labelFontSize": 44, "labelFontWeight": "bold", "labelLimit": 2000,
            "encode": {
              "labels": {"update": {"fill": {"signal": "datum.index === 0 ? '#1d3ef8' : datum.index === 1 ? '#ff2a0c' : datum.index === 2 ? '#16e616' : '#000000'"}}}
            }}}
      }
    },
    {
      "data": {"name": "red"},
      "mark": {"type": "circle", "size": 68, "opacity": 1},
      "encoding": {
        "x": {"field": "frac", "type": "quantitative", "scale": {"domain": [-0.905, 0.895], "nice": false, "zero": false},
          "axis": {"orient": "bottom", "values": [-0.8, -0.7, -0.6, -0.4, -0.3, -0.2, -0.1, 0.1, 0.2, 0.3, 0.4, 0.6, 0.7, 0.8], "labels": false, "domain": false, "ticks": true, "tickSize": -11, "tickWidth": 2, "tickColor": "#111111", "grid": false, "title": null, "zindex": 1}},
        "y": {"field": "br", "type": "quantitative", "scale": {"type": "log", "domain": [1e-9, 1e-4], "nice": false},
          "axis": {"orient": "left", "values": [2e-9, 3e-9, 4e-9, 5e-9, 6e-9, 7e-9, 8e-9, 9e-9, 2e-8, 3e-8, 4e-8, 5e-8, 6e-8, 7e-8, 8e-8, 9e-8, 2e-7, 3e-7, 4e-7, 5e-7, 6e-7, 7e-7, 8e-7, 9e-7, 2e-6, 3e-6, 4e-6, 5e-6, 6e-6, 7e-6, 8e-6, 9e-6, 2e-5, 3e-5, 4e-5, 5e-5, 6e-5, 7e-5, 8e-5, 9e-5], "labels": false, "domain": false, "ticks": true, "tickSize": -12, "tickWidth": 2, "tickColor": "#111111", "grid": false, "title": null, "zindex": 1}},
        "color": {"datum": "2m(τ)<m(A⁰)<7.5 GeV/c²", "type": "nominal",
          "scale": {"domain": ["m(A⁰)<2m(τ)", "2m(τ)<m(A⁰)<7.5 GeV/c²", "7.5<m(A⁰)<8.8 GeV/c²", "8.8<m(A⁰)<9.2 GeV/c²"], "range": ["#0000ff", "#ff0000", "#00ff00", "#000000"]}}
      }
    },
    {
      "data": {"name": "green"},
      "mark": {"type": "circle", "size": 68, "opacity": 1},
      "encoding": {
        "x": {"field": "frac", "type": "quantitative", "scale": {"domain": [-0.905, 0.895], "nice": false, "zero": false},
          "axis": {"orient": "bottom", "values": [-0.5, 0, 0.5], "labels": false, "domain": false, "ticks": true, "tickSize": -28, "tickWidth": 2.5, "tickColor": "#111111", "grid": false, "title": null, "zindex": 1}},
        "y": {"field": "br", "type": "quantitative", "scale": {"type": "log", "domain": [1e-9, 1e-4], "nice": false},
          "axis": {"orient": "left", "values": [1e-9, 1e-8, 1e-7, 1e-6, 1e-5, 1e-4], "labels": false, "domain": false, "ticks": true, "tickSize": -32, "tickWidth": 2.5, "tickColor": "#111111", "grid": false, "title": null, "zindex": 1}},
        "color": {"datum": "7.5<m(A⁰)<8.8 GeV/c²", "type": "nominal",
          "scale": {"domain": ["m(A⁰)<2m(τ)", "2m(τ)<m(A⁰)<7.5 GeV/c²", "7.5<m(A⁰)<8.8 GeV/c²", "8.8<m(A⁰)<9.2 GeV/c²"], "range": ["#0000ff", "#ff0000", "#00ff00", "#000000"]}}
      }
    },
    {
      "data": {"name": "blue"},
      "mark": {"type": "point", "shape": "diamond", "filled": false, "size": 110, "strokeWidth": 3.2, "opacity": 1},
      "encoding": {
        "x": {"field": "frac", "type": "quantitative", "scale": {"domain": [-0.905, 0.895], "nice": false, "zero": false},
          "axis": {"orient": "top", "values": [-0.8, -0.7, -0.6, -0.4, -0.3, -0.2, -0.1, 0.1, 0.2, 0.3, 0.4, 0.6, 0.7, 0.8], "labels": false, "domain": true, "domainColor": "#111111", "domainWidth": 2.5, "ticks": true, "tickSize": -11, "tickWidth": 2, "tickColor": "#111111", "grid": false, "title": null, "zindex": 1}},
        "y": {"field": "br", "type": "quantitative", "scale": {"type": "log", "domain": [1e-9, 1e-4], "nice": false},
          "axis": {"orient": "right", "values": [2e-9, 3e-9, 4e-9, 5e-9, 6e-9, 7e-9, 8e-9, 9e-9, 2e-8, 3e-8, 4e-8, 5e-8, 6e-8, 7e-8, 8e-8, 9e-8, 2e-7, 3e-7, 4e-7, 5e-7, 6e-7, 7e-7, 8e-7, 9e-7, 2e-6, 3e-6, 4e-6, 5e-6, 6e-6, 7e-6, 8e-6, 9e-6, 2e-5, 3e-5, 4e-5, 5e-5, 6e-5, 7e-5, 8e-5, 9e-5], "labels": false, "domain": true, "domainColor": "#111111", "domainWidth": 2.5, "ticks": true, "tickSize": -12, "tickWidth": 2, "tickColor": "#111111", "grid": false, "title": null, "zindex": 1}},
        "color": {"datum": "m(A⁰)<2m(τ)", "type": "nominal",
          "scale": {"domain": ["m(A⁰)<2m(τ)", "2m(τ)<m(A⁰)<7.5 GeV/c²", "7.5<m(A⁰)<8.8 GeV/c²", "8.8<m(A⁰)<9.2 GeV/c²"], "range": ["#0000ff", "#ff0000", "#00ff00", "#000000"]}}
      }
    },
    {
      "data": {"values": [{"f0": -0.1, "f1": 0.57, "br0": 2e-7, "br1": 3e-6}]},
      "mark": {"type": "rect", "fill": "#ff0000", "fillOpacity": 0.5, "stroke": "#111111", "strokeWidth": 1.5},
      "encoding": {
        "x": {"field": "f0", "type": "quantitative", "scale": {"domain": [-0.905, 0.895], "nice": false, "zero": false},
          "axis": {"orient": "top", "values": [-0.5, 0, 0.5], "labels": false, "domain": false, "ticks": true, "tickSize": -26, "tickWidth": 2.5, "tickColor": "#111111", "grid": false, "title": null, "zindex": 1}},
        "x2": {"field": "f1"},
        "y": {"field": "br0", "type": "quantitative", "scale": {"type": "log", "domain": [1e-9, 1e-4], "nice": false},
          "axis": {"orient": "right", "values": [1e-9, 1e-8, 1e-7, 1e-6, 1e-5, 1e-4], "labels": false, "domain": false, "ticks": true, "tickSize": -32, "tickWidth": 2.5, "tickColor": "#111111", "grid": false, "title": null, "zindex": 1}},
        "y2": {"field": "br1"}
      }
    },
    {
      "data": {"values": [{"f0": -0.537, "f1": 0.012, "br0": 2e-7, "br1": 5e-6}]},
      "mark": {"type": "rect", "fill": "#008000", "fillOpacity": 0.5, "stroke": "#1b7a1b", "strokeWidth": 2},
      "encoding": {
        "x": {"field": "f0", "type": "quantitative", "scale": {"domain": [-0.905, 0.895], "nice": false, "zero": false}, "axis": null},
        "x2": {"field": "f1"},
        "y": {"field": "br0", "type": "quantitative", "scale": {"type": "log", "domain": [1e-9, 1e-4], "nice": false}, "axis": null},
        "y2": {"field": "br1"}
      }
    },
    {
      "data": {"values": [{"f0": 0.213, "f1": 0.888, "br0": 2e-7, "br1": 3e-6}]},
      "mark": {"type": "rect", "fill": "#000080", "fillOpacity": 0.5, "stroke": "#111111", "strokeWidth": 2},
      "encoding": {
        "x": {"field": "f0", "type": "quantitative", "scale": {"domain": [-0.905, 0.895], "nice": false, "zero": false}, "axis": null},
        "x2": {"field": "f1"},
        "y": {"field": "br0", "type": "quantitative", "scale": {"type": "log", "domain": [1e-9, 1e-4], "nice": false}, "axis": null},
        "y2": {"field": "br1"}
      }
    },
    {
      "data": {"values": [{"f0": -0.917, "f1": -0.265, "br0": 1.9e-6, "br1": 1.03e-5}]},
      "mark": {"type": "rect", "fill": "#000000", "fillOpacity": 0.5, "stroke": "#111111", "strokeWidth": 2},
      "encoding": {
        "x": {"field": "f0", "type": "quantitative", "scale": {"domain": [-0.905, 0.895], "nice": false, "zero": false}, "axis": null},
        "x2": {"field": "f1"},
        "y": {"field": "br0", "type": "quantitative", "scale": {"type": "log", "domain": [1e-9, 1e-4], "nice": false}, "axis": null},
        "y2": {"field": "br1"}
      }
    },
    {
      "data": {"values": [{}]},
      "mark": {"type": "text", "text": "μ=150 GeV, any F", "font": "Liberation Mono", "fontSize": 37, "fontWeight": "bold", "color": "#222222", "align": "center", "baseline": "alphabetic"},
      "encoding": {
        "x": {"datum": -0.005, "type": "quantitative", "scale": {"domain": [-0.905, 0.895], "nice": false, "zero": false}, "axis": null},
        "y": {"datum": 3.886e-5, "type": "quantitative", "scale": {"type": "log", "domain": [1e-9, 1e-4], "nice": false}, "axis": null}
      }
    },
    {
      "data": {"values": [{}]},
      "mark": {"type": "text", "text": "A⁰ ⟶ μ⁺μ⁻", "font": "Liberation Sans", "fontSize": 46, "fontWeight": "bold", "fontStyle": "italic", "color": "#111111", "align": "center", "baseline": "alphabetic"},
      "encoding": {
        "x": {"datum": -0.121, "type": "quantitative", "scale": {"domain": [-0.905, 0.895], "nice": false, "zero": false}, "axis": null},
        "y": {"datum": 1.688e-4, "type": "quantitative", "scale": {"type": "log", "domain": [1e-9, 1e-4], "nice": false}, "axis": null}
      }
    }
  ],
  "resolve": {"axis": {"x": "independent", "y": "independent"}}
}
